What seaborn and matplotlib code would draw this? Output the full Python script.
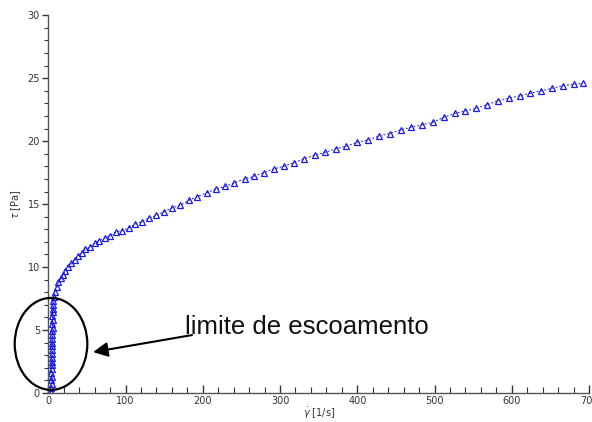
import matplotlib
matplotlib.use("Agg")
import matplotlib.pyplot as plt
from matplotlib.patches import Ellipse
from matplotlib.ticker import MultipleLocator
import seaborn as sns
import pandas as pd

# --- data ---
yield_gamma = [3.5, 4.0, 4.2, 3.8, 4.5, 4.0, 4.6, 4.3, 4.8, 4.4, 5.0, 4.6, 5.2,
               4.8, 5.0, 5.3, 5.0, 5.5, 5.2, 5.6, 5.4, 5.8, 5.5, 6.0, 5.8]
yield_tau = [0.1, 0.4, 0.7, 1.0, 1.3, 1.6, 1.9, 2.2, 2.5, 2.8, 3.1, 3.4, 3.7,
             4.0, 4.3, 4.6, 4.9, 5.2, 5.5, 5.8, 6.1, 6.4, 6.7, 7.0, 7.3]
flow_gamma = [7, 9, 11, 13, 16, 19, 22, 26, 30, 34, 38, 43, 48, 54, 60, 66, 73,
              80, 88, 96, 104, 112, 121, 130, 140, 150, 160, 171, 182, 193, 205,
              217, 229, 241, 254, 266, 279, 292, 305, 318, 331, 345, 358, 372,
              386, 400, 414, 428, 442, 456, 470, 484, 498, 512, 526, 540, 554,
              568, 582, 596, 610, 624, 638, 652, 666, 680, 692]
flow_tau = [7.6, 8.0, 8.4, 8.8, 9.1, 9.4, 9.7, 10.0, 10.3, 10.6, 10.9, 11.1,
            11.4, 11.6, 11.9, 12.1, 12.3, 12.5, 12.8, 12.9, 13.1, 13.4, 13.6,
            13.9, 14.1, 14.4, 14.7, 14.9, 15.3, 15.6, 15.9, 16.2, 16.4, 16.7,
            17.0, 17.2, 17.5, 17.8, 18.0, 18.3, 18.6, 18.9, 19.1, 19.4, 19.6,
            19.9, 20.1, 20.4, 20.6, 20.9, 21.1, 21.3, 21.5, 21.9, 22.2, 22.4,
            22.6, 22.9, 23.2, 23.4, 23.6, 23.8, 24.0, 24.2, 24.4, 24.5, 24.6]
x_ticks = [0, 100, 200, 300, 400, 500, 600, 700]
y_ticks = [0, 5, 10, 15, 20, 25, 30]
annotation = "limite de escoamento"

df = pd.DataFrame({"gamma": yield_gamma + flow_gamma,
                   "tau": yield_tau + flow_tau})

sns.set_style("ticks")
plt.rcParams["font.family"] = ["DejaVu Sans"]

fig = plt.figure(figsize=(5.92, 4.22), dpi=100)
ax = fig.add_axes([0.0816, 0.0687, 0.9134, 0.8953])

blue = "#1a1ae6"
sns.lineplot(data=df, x="gamma", y="tau", sort=False, estimator=None, ax=ax,
             color=blue, linestyle=(0, (2, 2)), linewidth=0.7,
             marker="^", markersize=5, markerfacecolor="none",
             markeredgecolor=blue, markeredgewidth=0.9)

ax.set_xlim(0, 700)
ax.set_ylim(0, 30)
ax.set_xticks(x_ticks)
ax.set_yticks(y_ticks)
ax.xaxis.set_minor_locator(MultipleLocator(20))
ax.yaxis.set_minor_locator(MultipleLocator(1))
ax.tick_params(axis="x", which="major", direction="in", length=6, width=1,
               labelsize=7, colors="#333333", pad=2)
ax.tick_params(axis="x", which="minor", direction="in", length=4, width=0.8,
               colors="#333333")
ax.tick_params(axis="y", which="major", direction="out", length=4, width=1,
               labelsize=7, colors="#333333", pad=2)
ax.tick_params(axis="y", which="minor", direction="out", length=3, width=0.8,
               colors="#333333")
for s in ("top", "right"):
    ax.spines[s].set_visible(False)
for s in ("left", "bottom"):
    ax.spines[s].set_color("#555555")
    ax.spines[s].set_linewidth(1.0)

ax.set_xlabel(r"$\dot{\gamma}$ [1/s]", fontsize=7, color="#333333", labelpad=0)
ax.set_ylabel(r"$\tau$ [Pa]", fontsize=7, color="#333333", labelpad=3)

ell = Ellipse((3.5, 3.9), width=94, height=7.3, fill=False, edgecolor="black",
              linewidth=1.6, clip_on=False, zorder=5)
ax.add_patch(ell)

ax.annotate("", xy=(58, 3.25), xytext=(186, 4.6),
            arrowprops=dict(arrowstyle="-|>", mutation_scale=22, lw=1.5,
                            color="black", shrinkA=0, shrinkB=0))
ax.text(177, 4.7, annotation, fontsize=18.5, family="Liberation Sans",
        va="baseline", ha="left", color="#111111")

fig.savefig("out.png", dpi=100)
